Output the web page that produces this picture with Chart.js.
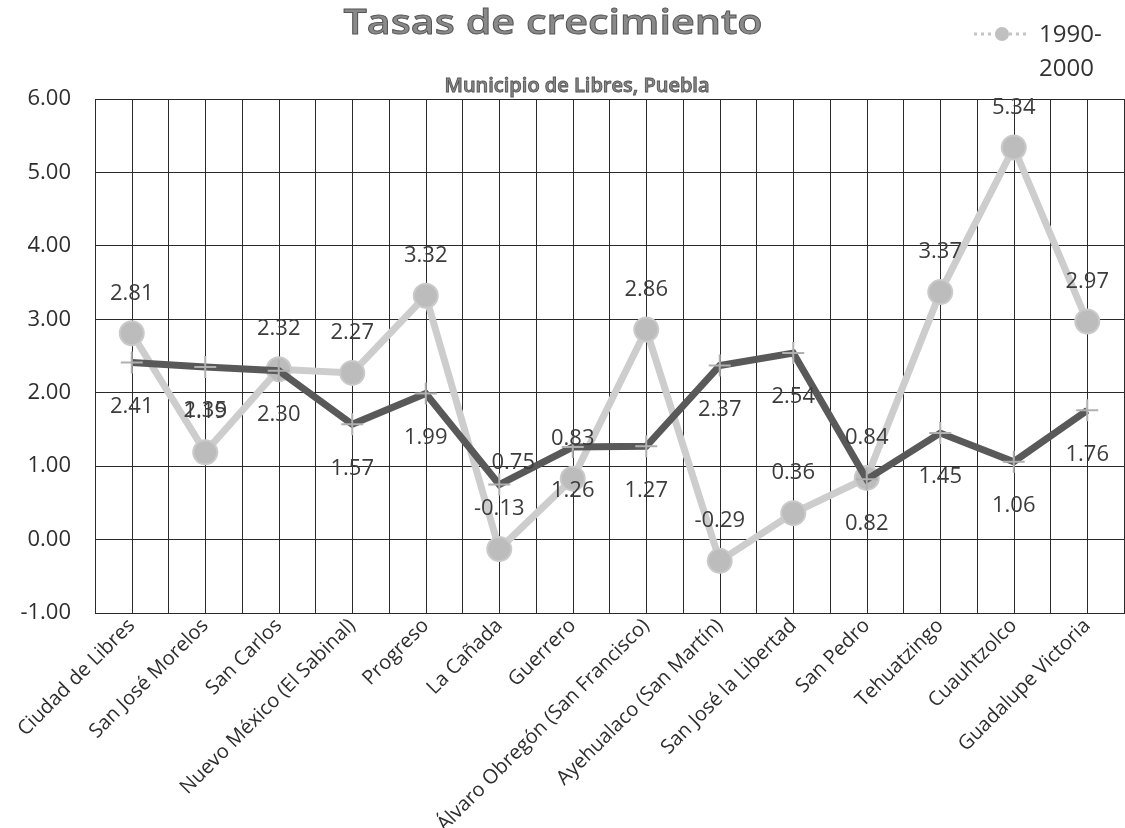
<!DOCTYPE html>
<html lang="es">
<head>
<meta charset="utf-8">
<title>Tasas de crecimiento</title>
<script src="https://cdn.jsdelivr.net/npm/chart.js@4/dist/chart.umd.min.js"></script>
<style>
  html, body { margin: 0; padding: 0; background: #fff; }
  #wrap { width: 1125px; height: 828px; }
</style>
</head>
<body>
<div id="wrap"><canvas id="chart" width="1125" height="828"></canvas></div>
<script>
  const categories = [
    'Ciudad de Libres', 'San José Morelos', 'San Carlos', 'Nuevo México (El Sabinal)',
    'Progreso', 'La Cañada', 'Guerrero', 'Álvaro Obregón (San Francisco)',
    'Ayehualaco (San Martín)', 'San José la Libertad', 'San Pedro', 'Tehuatzingo',
    'Cuauhtzolco', 'Guadalupe Victoria',
  ];
  const tasa1990 = [2.81, 1.19, 2.32, 2.27, 3.32, -0.13, 0.83, 2.86, -0.29, 0.36, 0.84, 3.37, 5.34, 2.97];
  const tasa2000 = [2.41, 2.35, 2.30, 1.57, 1.99, 0.75, 1.26, 1.27, 2.37, 2.54, 0.82, 1.45, 1.06, 1.76];
  const yMin = -1;
  const yMax = 6;
  const yStep = 1;

  const FONT = '"Open Sans", "Noto Sans", sans-serif';

  // lines on the category centres as well as the boundaries
  const centreGrid = {
    id: 'centreGrid',
    beforeDatasetsDraw(chart) {
      const { ctx, chartArea, scales } = chart;
      ctx.save();
      ctx.strokeStyle = '#2a2a2a';
      ctx.lineWidth = 1;
      categories.forEach((c, i) => {
        const x = Math.round(scales.x.getPixelForValue(i)) + 0.5;
        ctx.beginPath();
        ctx.moveTo(x, chartArea.top);
        ctx.lineTo(x, chartArea.bottom);
        ctx.stroke();
      });
      ctx.restore();
    },
  };

  const valueLabels = {
    id: 'valueLabels',
    afterDatasetsDraw(chart) {
      const { ctx } = chart;
      ctx.save();
      ctx.font = '22px ' + FONT;
      ctx.fillStyle = '#3c3c3c';
      ctx.textAlign = 'center';
      ctx.textBaseline = 'middle';
      chart.data.datasets.forEach((ds, di) => {
        const meta = chart.getDatasetMeta(di);
        meta.data.forEach((pt, i) => {
          let dy = ds.labelOffset;
          let dx = 0;
          // Excel moved this one by hand
          if (di === 1 && i === 5) { dy = -22; dx = 14; }
          ctx.fillText(ds.data[i].toFixed(2), pt.x + dx, pt.y + dy);
        });
      });
      ctx.restore();
    },
  };

  const headings = {
    id: 'headings',
    afterDraw(chart) {
      const { ctx } = chart;
      ctx.save();
      ctx.textAlign = 'center';
      ctx.textBaseline = 'middle';
      ctx.fillStyle = '#8a8a8a';
      ctx.strokeStyle = '#555';
      ctx.lineWidth = 0.9;
      ctx.save();
      ctx.translate(553, 24);
      ctx.scale(1.18, 1);
      ctx.font = '600 35px ' + FONT;
      ctx.fillText('Tasas de crecimiento', 0, 0);
      ctx.strokeText('Tasas de crecimiento', 0, 0);
      ctx.restore();
      ctx.font = '600 20px ' + FONT;
      ctx.fillText('Municipio de Libres, Puebla', 577, 86);
      ctx.strokeText('Municipio de Libres, Puebla', 577, 86);

      // legend
      ctx.strokeStyle = '#c4c4c4';
      ctx.lineWidth = 3;
      ctx.setLineDash([3, 4]);
      ctx.beginPath();
      ctx.moveTo(974, 34);
      ctx.lineTo(1030, 34);
      ctx.stroke();
      ctx.setLineDash([]);
      ctx.fillStyle = '#c0c0c0';
      ctx.beginPath();
      ctx.arc(1002, 34, 7, 0, Math.PI * 2);
      ctx.fill();
      ctx.fillStyle = '#333';
      ctx.textAlign = 'left';
      ctx.font = '24px ' + FONT;
      ctx.fillText('1990-', 1039, 35);
      ctx.fillText('2000', 1039, 69);
      ctx.restore();
    },
  };

  new Chart(document.getElementById('chart'), {
    type: 'line',
    data: {
      labels: categories,
      datasets: [
        {
          label: '1990-2000',
          data: tasa1990,
          order: 2,
          borderColor: '#cdcdcd',
          borderWidth: 7,
          pointStyle: 'circle',
          pointRadius: 12,
          pointBackgroundColor: '#bcbcbc',
          pointBorderColor: '#cacaca',
          pointBorderWidth: 2,
          labelOffset: -40,
        },
        {
          label: '2000-2010',
          data: tasa2000,
          order: 1,
          borderColor: '#595959',
          borderWidth: 7,
          pointStyle: 'cross',
          pointRadius: 11,
          pointBorderColor: '#b0b0b0',
          pointBorderWidth: 2,
          labelOffset: 44,
        },
      ],
    },
    options: {
      responsive: false,
      animation: false,
      layout: { autoPadding: false, padding: { top: 99, right: 1, left: 0, bottom: 0 } },
      plugins: {
        legend: { display: false },
        title: { display: false },
        tooltip: { enabled: false },
      },
      elements: { line: { tension: 0 } },
      scales: {
        x: {
          offset: true,
          grid: { offset: true, color: '#2a2a2a', lineWidth: 1, drawTicks: false },
          border: { color: '#2a2a2a' },
          ticks: {
            autoSkip: false,
            maxRotation: 45,
            minRotation: 45,
            padding: 1,
            color: '#2e2e2e',
            font: { family: FONT, size: 20 },
          },
          afterFit(scale) {
            scale.height = 215;
            scale.paddingLeft = 0;
            scale.paddingRight = 0;
          },
        },
        y: {
          min: yMin,
          max: yMax,
          grid: { color: '#2a2a2a', lineWidth: 1, drawTicks: false },
          border: { color: '#2a2a2a' },
          ticks: {
            stepSize: yStep,
            padding: 24,
            color: '#2e2e2e',
            font: { family: FONT, size: 22 },
            callback: v => v.toFixed(2),
          },
          afterFit(scale) { scale.width = 95; },
        },
      },
    },
    plugins: [centreGrid, valueLabels, headings],
  });
</script>
</body>
</html>
